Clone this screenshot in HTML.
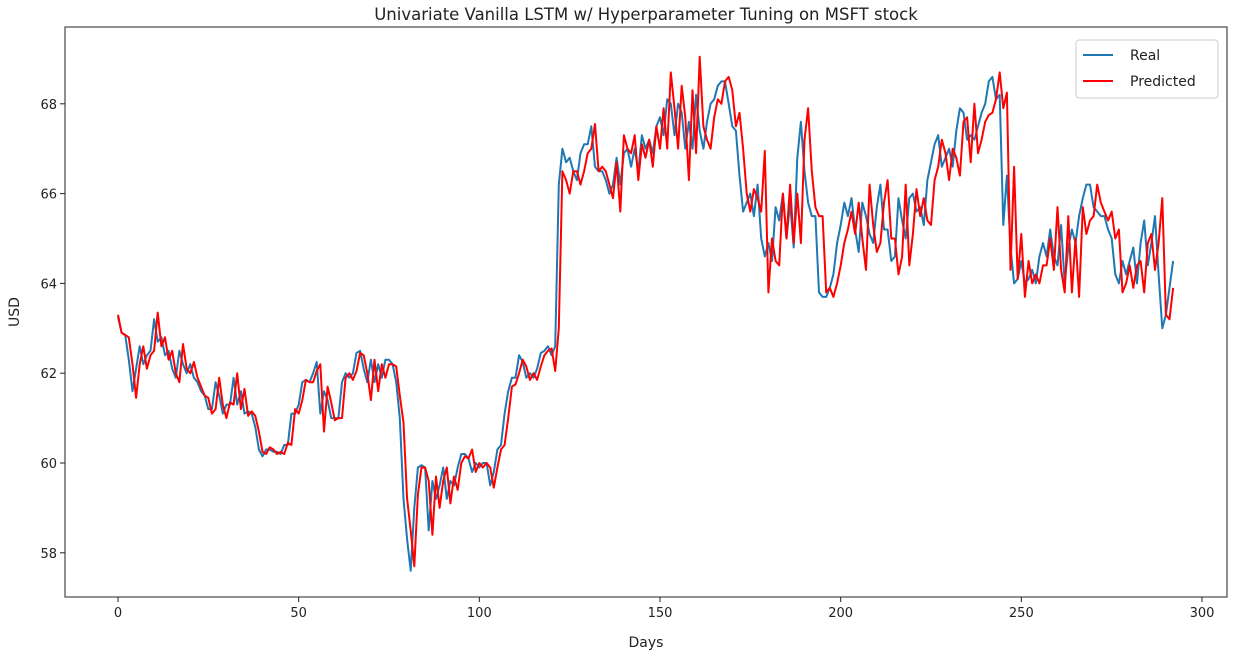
<!DOCTYPE html>
<html><head><meta charset="utf-8"><style>
body{margin:0;background:#fff;font-family:"Liberation Sans","DejaVu Sans",sans-serif;}
svg text{font-family:"DejaVu Sans","Liberation Sans",sans-serif;fill:#222;}
</style></head><body>
<svg id="chart" width="1243" height="659" xmlns="http://www.w3.org/2000/svg">
<text x="646" y="20" text-anchor="middle" font-size="16.5">Univariate Vanilla LSTM w/ Hyperparameter Tuning on MSFT stock</text>
<g id="plot"></g>
<text x="646" y="647" text-anchor="middle" font-size="14">Days</text>
<text x="19" y="312" text-anchor="middle" font-size="14" transform="rotate(-90 19 312)">USD</text>
<g>
<rect x="1076" y="40" width="142" height="58" rx="3" fill="#fff" stroke="#ccc"/>
<line x1="1083" y1="55" x2="1113" y2="55" stroke="#1f77b4" stroke-width="2"/>
<text x="1130" y="60" font-size="14">Real</text>
<line x1="1083" y1="81" x2="1113" y2="81" stroke="#ff0000" stroke-width="2"/>
<text x="1130" y="86" font-size="14">Predicted</text>
</g>
</svg>
<script>
const xTicks=[0,50,100,150,200,250,300];
const yTicks=[58,60,62,64,66,68];
const realValues=[63.25,62.9,62.85,62.3,61.6,62.1,62.6,62.2,62.4,62.5,63.2,
62.7,62.8,62.4,62.5,62.1,61.9,62.5,62.2,62.0,62.2,
61.9,61.8,61.6,61.5,61.2,61.2,61.8,61.5,61.1,61.3,
61.3,61.9,61.3,61.6,61.1,61.15,61.1,60.8,60.3,60.15,
60.3,60.3,60.25,60.25,60.2,60.4,60.4,61.1,61.1,61.3,
61.8,61.85,61.8,62.0,62.25,61.1,61.6,61.4,61.0,61.0,
61.0,61.8,62.0,61.9,62.0,62.45,62.5,62.1,61.8,62.3,
61.8,62.2,61.9,62.3,62.3,62.2,61.8,61.0,59.2,58.3,57.6,
59.0,59.9,59.95,59.9,58.5,59.6,59.2,59.5,59.9,59.2,
59.6,59.5,59.9,60.2,60.2,60.1,59.8,60.0,59.9,60.0,
60.0,59.5,59.8,60.3,60.4,61.1,61.6,61.9,61.9,62.4,
62.25,61.9,62.0,61.9,62.1,62.45,62.5,62.6,62.4,62.6,
66.2,67.0,66.7,66.8,66.5,66.3,66.9,67.1,67.1,67.5,
66.6,66.5,66.5,66.3,66.0,66.2,66.8,66.2,66.9,
67.0,66.6,67.0,66.5,67.3,67.0,67.2,66.9,67.5,67.7,
67.3,68.1,68.0,67.3,68.0,67.8,67.0,67.6,67.0,68.2,
67.4,67.0,67.6,68.0,68.1,68.4,68.5,68.5,68.0,67.5,
67.4,66.4,65.6,65.8,66.0,65.5,66.2,65.0,64.6,64.9,
64.5,65.7,65.4,66.0,65.0,65.8,64.8,66.8,67.6,66.5,
65.8,65.5,65.5,63.8,63.7,63.7,63.9,64.2,64.9,65.3,
65.8,65.5,65.9,65.2,64.7,65.8,65.5,65.1,64.9,65.7,
66.2,65.2,65.2,64.5,64.6,65.9,65.4,65.0,65.9,
66.0,65.6,65.7,65.3,66.3,66.7,67.1,67.3,66.6,66.8,
67.0,66.6,67.4,67.9,67.8,67.2,67.3,67.2,67.5,67.8,
68.0,68.5,68.6,68.1,68.2,65.3,66.4,64.8,64.0,64.1,
64.5,64.0,64.1,64.3,64.0,64.6,64.9,64.6,65.2,64.6,
64.4,65.3,64.0,64.8,65.2,64.9,65.5,65.9,66.2,66.2,
65.7,65.6,65.5,65.5,65.2,65.0,64.2,64.0,64.5,64.2,
64.5,64.8,64.0,64.9,65.4,64.4,64.9,65.5,64.2,63.0,63.3,63.9,64.5];
const predictedValues=[63.3,62.9,62.85,62.8,62.2,61.45,62.2,62.6,62.1,62.4,62.5,63.35,
62.6,62.8,62.3,62.5,62.0,61.8,62.65,62.1,62.0,
62.25,61.9,61.7,61.5,61.45,61.1,61.2,61.9,61.3,61.0,
61.35,61.3,62.0,61.2,61.65,61.05,61.15,61.05,60.7,60.25,
60.2,60.35,60.3,60.2,60.25,60.2,60.45,60.4,61.2,61.1,
61.4,61.85,61.8,61.8,62.05,62.2,60.7,61.7,61.35,60.95,
61.0,61.0,61.9,62.0,61.85,62.05,62.45,62.4,62.0,61.4,
62.3,61.6,62.2,61.9,62.2,62.2,62.15,61.5,60.9,59.2,58.5,
57.7,59.3,59.9,59.9,59.6,58.4,59.7,59.0,59.6,59.9,
59.1,59.7,59.4,60.0,60.15,60.1,60.3,59.8,60.0,59.9,
60.0,59.9,59.45,59.9,60.3,60.4,61.0,61.7,61.75,62.0,
62.3,62.15,61.85,62.0,61.85,62.15,62.4,62.5,62.55,62.05,
63.0,66.5,66.3,66.0,66.5,66.5,66.2,66.5,66.9,67.0,
67.55,66.5,66.6,66.5,66.2,65.9,66.7,65.6,67.3,
67.0,66.9,67.3,66.3,67.1,66.8,67.2,66.6,67.5,67.0,
67.9,67.0,68.7,67.9,67.0,68.4,67.7,66.3,68.3,66.9,69.05,
67.5,67.2,67.0,67.7,68.1,68.0,68.5,68.6,68.3,67.5,
67.8,67.0,66.0,65.6,66.1,65.9,65.6,66.95,63.8,65.0,
64.5,64.4,66.0,65.0,66.2,64.9,66.0,64.9,67.2,67.9,
66.5,65.7,65.5,65.5,63.8,63.9,63.7,64.0,64.4,64.9,
65.2,65.6,65.1,65.8,65.0,64.3,66.2,65.3,64.7,64.9,
65.8,66.3,65.0,65.0,64.2,64.6,66.2,64.4,65.1,
66.1,65.5,65.9,65.4,65.3,66.3,66.6,67.2,66.9,66.3,
67.0,66.8,66.4,67.6,67.7,66.7,68.0,66.9,67.2,67.6,
67.75,67.8,68.1,68.7,67.9,68.25,64.3,66.6,64.1,65.1,
63.7,64.5,64.0,64.2,64.0,64.4,64.4,65.0,64.3,65.7,
64.3,63.8,65.5,63.8,65.0,63.7,65.7,65.1,65.4,65.5,
66.2,65.8,65.6,65.4,65.6,65.0,65.2,63.8,64.0,64.4,
63.9,64.4,64.5,63.8,64.9,65.1,64.3,64.9,65.9,63.3,63.2,63.9];

const L=65,R=1227,T=27,B=597;
const xs=d=>118+d*(1202-118)/300;
const ys=v=>463-(v-60)*44.9;
const NS='http://www.w3.org/2000/svg';
const plot=document.getElementById('plot');
function mk(tag,attrs){const e=document.createElementNS(NS,tag);for(const k in attrs)e.setAttribute(k,attrs[k]);plot.appendChild(e);return e;}

xTicks.forEach(t=>{
  const l=mk('line',{x1:xs(t),x2:xs(t),y1:B,y2:B+5,stroke:'#222'});
  
  
  const tx=mk('text',{x:xs(t),y:B+20,'text-anchor':'middle','font-size':13});
  tx.textContent=t;
  
  
});
yTicks.forEach(t=>{
  const l=mk('line',{x1:L-5,x2:L,y1:ys(t),y2:ys(t),stroke:'#222'});
  
  
  const tx=mk('text',{x:L-8,y:ys(t)+5,'text-anchor':'end','font-size':13});
  tx.textContent=t;
  
  
});
function line(vals,color,name){
  const p=mk('polyline',{points:vals.map((v,i)=>xs(i).toFixed(1)+','+ys(v).toFixed(1)).join(' '),fill:'none',stroke:color,'stroke-width':2,'stroke-linejoin':'round'});
  
  
}
line(realValues,'#1f77b4','real-series-line');
line(predictedValues,'#ff0000','predicted-series-line');
const f=mk('rect',{x:L,y:T,width:R-L,height:B-T,fill:'none',stroke:'#222'});


</script>
</body></html>
